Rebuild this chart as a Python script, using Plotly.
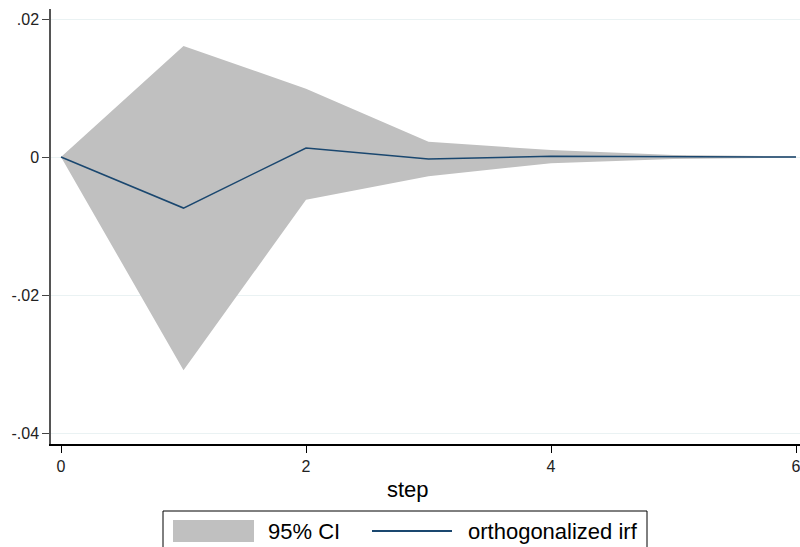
import plotly.graph_objects as go

# ---- data ----
steps = [0, 1, 2, 3, 4, 5, 6]
irf = [0.0, -0.0074, 0.0013, -0.0003, 0.0001, 0.0001, 0.0]
ci_upper = [0.0, 0.0161, 0.0099, 0.0022, 0.0010, 0.0003, 0.0001]
ci_lower = [0.0, -0.0309, -0.0062, -0.0028, -0.0009, -0.0003, -0.0001]
y_tickvals = [0.02, 0.0, -0.02, -0.04]
y_ticktext = [".02", "0", "-.02", "-.04"]
x_tickvals = [0, 2, 4, 6]
legend_labels = ["95% CI", "orthogonalized irf"]
x_title = "step"

FILL = "#c0c0c0"
LINE = "#1a476f"
FONT = "Arial, Liberation Sans, sans-serif"

W, H = 800, 547
# plot area in page pixels: left 51, right 800, top 9, bottom 444
PL, PR, PT, PB = 51, 800, 9, 444
L, T = PL, PT
R, B = W - PR, H - PB
PW, PH = PR - PL, PB - PT


def px(x):
    return (x - PL) / PW


def py(y):
    return (PB - y) / PH


fig = go.Figure()
fig.add_trace(go.Scatter(x=steps, y=ci_lower, mode="lines", line=dict(width=0, color=FILL),
                         showlegend=False, hoverinfo="skip"))
fig.add_trace(go.Scatter(x=steps, y=ci_upper, mode="lines", line=dict(width=0, color=FILL),
                         fill="tonexty", fillcolor=FILL, showlegend=False, name=legend_labels[0]))
fig.add_trace(go.Scatter(x=steps, y=irf, mode="lines", line=dict(width=1.5, color=LINE),
                         showlegend=False, name=legend_labels[1]))

shapes = [
    dict(type="rect", xref="paper", yref="paper", x0=px(163), x1=px(647), y0=py(511), y1=py(580),
         line=dict(color="#000000", width=1), fillcolor="rgba(0,0,0,0)", layer="above"),
    dict(type="rect", xref="paper", yref="paper", x0=px(173), x1=px(254), y0=py(520), y1=py(542),
         line=dict(width=0), fillcolor=FILL),
    dict(type="line", xref="paper", yref="paper", x0=px(372), x1=px(452), y0=py(531), y1=py(531),
         line=dict(color=LINE, width=2)),
]
annotations = [
    dict(text=legend_labels[0], xref="paper", yref="paper", x=px(266), y=py(531),
         xanchor="left", yanchor="middle", showarrow=False, font=dict(size=22, color="#000000", family=FONT)),
    dict(text=legend_labels[1], xref="paper", yref="paper", x=px(466), y=py(531),
         xanchor="left", yanchor="middle", showarrow=False, font=dict(size=22, color="#000000", family=FONT)),
    dict(text=x_title, xref="paper", yref="paper", x=px(407.5), y=py(489),
         xanchor="center", yanchor="middle", showarrow=False, font=dict(size=22, color="#000000", family=FONT)),
]

x0_px, x6_px = 61, 796
ppu = (x6_px - x0_px) / 6.0
xr = [(PL - x0_px) / ppu, (PR - x0_px) / ppu]
y0_px, y02_px = 157, 19
ppy = (y0_px - y02_px) / 0.02
yr = [-(PB - y0_px) / ppy, (y0_px - PT) / ppy]

fig.update_layout(
    width=W, height=H,
    margin=dict(l=L, r=R, t=T, b=B, pad=0),
    paper_bgcolor="white", plot_bgcolor="white",
    font=dict(family=FONT, size=16, color="#000000"),
    showlegend=False,
    shapes=shapes, annotations=annotations,
    xaxis=dict(range=xr, tickvals=x_tickvals, ticks="outside", ticklen=7, tickwidth=1,
               tickcolor="#000000", showgrid=False, zeroline=False, showline=True,
               linecolor="#000000", linewidth=1.5, tickfont=dict(size=16, color="#222222"),
               ticklabeloverflow="allow"),
    yaxis=dict(range=yr, tickvals=y_tickvals, ticktext=y_ticktext, ticks="outside", ticklen=7,
               tickwidth=1, tickcolor="#444444", showgrid=True, gridcolor="#eaf2f3", gridwidth=1,
               zeroline=False, showline=True, linecolor="#555555", linewidth=1.5,
               tickfont=dict(size=16, color="#222222")),
)

fig.write_html(
    "out.html",
    config={"displayModeBar": False},
    post_script="document.body.style.margin='0';document.body.style.overflow='hidden';"
                "document.documentElement.style.overflow='hidden';",
)
